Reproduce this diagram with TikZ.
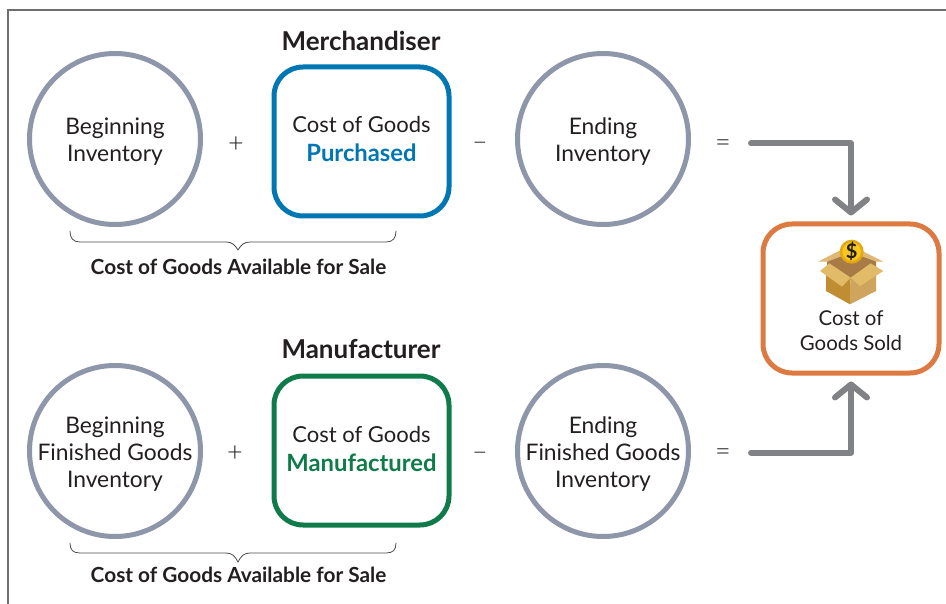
\documentclass[tikz,border=0pt]{standalone}
\usepackage{fontspec}
\setmainfont{Lato}
\newfontfamily\lightf{Lato Light}
\usetikzlibrary{arrows.meta,calc}
\definecolor{ringgray}{HTML}{8E96A9}
\definecolor{frameg}{HTML}{6E6E6E}
\definecolor{arrowg}{HTML}{808285}
\definecolor{txt}{HTML}{231F20}
\definecolor{pblue}{HTML}{0077B3}
\definecolor{mgreen}{HTML}{0F7B4A}
\definecolor{gorange}{HTML}{DD7A41}
\definecolor{flapc}{RGB}{222,184,116}
\definecolor{innerc}{RGB}{168,122,70}
\definecolor{leftc}{RGB}{192,141,50}
\definecolor{rightc}{RGB}{207,165,94}
\definecolor{frontc}{RGB}{226,187,104}
\definecolor{coinrim}{RGB}{226,168,20}
\definecolor{coinc}{RGB}{248,200,30}
\tikzset{
  ring/.style={circle,draw=ringgray,line width=5pt,fill=white,minimum size=171pt,inner sep=-5pt,align=center,text=txt,font=\fontsize{22.8}{27}\selectfont},
  rbox/.style={rectangle,rounded corners=29pt,line width=5pt,fill=white,minimum width=175pt,minimum height=149pt,inner sep=0pt,align=center,text=txt,font=\fontsize{22}{29}\selectfont},
  opsign/.style={text=txt,inner sep=0pt,font=\lightf\fontsize{27}{30}\selectfont},
  headtxt/.style={text=txt,inner sep=0pt,font=\fontsize{26}{30}\selectfont\bfseries},
  subtxt/.style={text=txt,inner sep=0pt,font=\fontsize{20.8}{24}\selectfont\bfseries},
  brace/.style={draw=txt!80,line width=0.8pt},
  flow/.style={draw=arrowg,line width=6pt,line cap=round,line join=round,shorten >=6pt,-{Straight Barb[length=13pt,width=32pt,line width=6pt,round]}},
}
\newcommand{\emtxt}[2]{{\color{#1}\fontsize{23.8}{29}\selectfont\bfseries #2}}
\begin{document}
\begin{tikzpicture}[x=1pt,y=-1pt]
\useasboundingbox (0,0) rectangle (946,604);
\fill[white] (0,0) rectangle (946,604);
\draw[frameg,line width=1.8pt] (946,10) -- (8,10) -- (8,604);

\node[headtxt] (mh) at (361,41) {Merchandiser};
\node[ring] (a1) at (115,139) {Beginning\\Inventory\\[-29pt]\mbox{}};
\node[rbox,draw=pblue] (a2) at (361.5,141.5) {Cost of Goods\\\emtxt{pblue}{Purchased}\\[-23pt]\mbox{}};
\node[ring] (a3) at (603,139) {Ending\\Inventory\\[-29pt]\mbox{}};
\node[opsign] (p1) at (236,145) {+};
\node[opsign] (m1) at (480,146) {–};
\node[opsign] (e1) at (723,146) {=};
\node[subtxt] (s1) at (238.5,267) {Cost of Goods Available for Sale};
\draw[brace] (70,231) .. controls (70,238) and (73,242) .. (80,242) -- (226,242) .. controls (232,242) and (235,245) .. (238,250) .. controls (241,245) and (244,242) .. (250,242) -- (386,242) .. controls (393,242) and (396,238) .. (396,231);

\node[headtxt] (mh2) at (361,349) {Manufacturer};
\node[ring] (b1) at (115,451) {Beginning\\Finished Goods\\Inventory\\[-29pt]\mbox{}};
\node[rbox,draw=mgreen] (b2) at (361.5,450.5) {Cost of Goods\\\emtxt{mgreen}{Manufactured}\\[-25pt]\mbox{}};
\node[ring] (b3) at (603,451) {Ending\\Finished Goods\\Inventory\\[-29pt]\mbox{}};
\node[opsign] (p2) at (235,454) {+};
\node[opsign] (m2) at (480,456) {–};
\node[opsign] (e2) at (723,455) {=};
\node[subtxt] (s2) at (238.5,575) {Cost of Goods Available for Sale};
\draw[brace] (70,543) .. controls (70,550) and (73,553) .. (80,553) -- (226,553) .. controls (232,553) and (235,556) .. (238,562) .. controls (241,556) and (244,553) .. (250,553) -- (386,553) .. controls (393,553) and (396,550) .. (396,543);

\node[rbox,draw=gorange,minimum width=176pt,minimum height=149pt] (g) at (851,298.5) {};
\node[text=txt,inner sep=0pt,align=center,font=\fontsize{20.4}{25}\selectfont] (gt) at (851,331) {Cost of\\Goods Sold};

\begin{scope}[shift={(750,210)},x=0.33333pt,y=-0.33333pt]
\fill[flapc] (205,155) -- (268,122) -- (305,155) -- cycle;
\fill[flapc] (400,155) -- (340,125) -- (305,155) -- cycle;
\fill[innerc] (232,155) -- (305,128) -- (378,155) -- (378,190) -- (302,205) -- (228,190) -- cycle;
\fill[leftc] (228,185) -- (302,203) -- (300,232) -- (300,283) -- (228,243) -- cycle;
\fill[rightc] (378,185) -- (302,203) -- (300,232) -- (300,283) -- (378,243) -- cycle;
\fill[frontc] (210,183) -- (238,160) -- (302,203) -- (276,230) -- cycle;
\fill[frontc] (302,203) -- (362,160) -- (400,183) -- (330,228) -- cycle;
\fill[coinrim] (305,125) circle[radius=36];
\fill[coinc] (305,125) circle[radius=28];
\node[text=txt,inner sep=0pt,font=\fontsize{20}{20}\selectfont\bfseries] (dollar) at (305,125) {\$};
\end{scope}

\draw[flow] ([shift={(20pt,2.5pt)}]e1.east) -- ([yshift=2.5pt]e1.east -| g.north) -- (g.north);
\draw[flow] ([shift={(20pt,2.5pt)}]e2.east) -- ([yshift=2.5pt]e2.east -| g.south) -- (g.south);
\end{tikzpicture}
\end{document}
